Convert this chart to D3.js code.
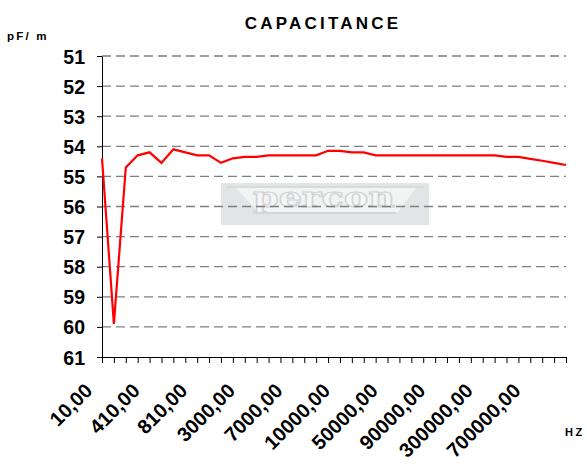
<!DOCTYPE html>
<html>
<head>
<meta charset="utf-8">
<script src="https://cdn.jsdelivr.net/npm/d3@7"></script>
<style>
  html, body { margin: 0; padding: 0; background: #fff; }
  svg { display: block; }
  text { font-family: "Liberation Sans", Arial, sans-serif; font-weight: bold; fill: #000; }
</style>
</head>
<body>
<svg id="chart" width="587" height="465"></svg>
<script>
// ---- data ----
const frequencies = [10, 110, 210, 310, 410, 510, 610, 710, 810, 910,
  1000, 2000, 3000, 4000, 5000, 6000, 7000, 8000, 9000, 9500,
  10000, 20000, 30000, 40000, 50000, 60000, 70000, 80000, 90000, 100000,
  200000, 250000, 300000, 400000, 500000, 600000, 700000, 800000, 900000, 1000000];
const capacitance = [54.4, 59.9, 54.7, 54.3, 54.2, 54.55, 54.1, 54.2, 54.3, 54.3,
  54.55, 54.4, 54.35, 54.35, 54.3, 54.3, 54.3, 54.3, 54.3, 54.15,
  54.15, 54.2, 54.2, 54.3, 54.3, 54.3, 54.3, 54.3, 54.3, 54.3,
  54.3, 54.3, 54.3, 54.3, 54.35, 54.35, 54.42, 54.48, 54.55, 54.62];
const yTickValues = [51, 52, 53, 54, 55, 56, 57, 58, 59, 60, 61];
const labelEvery = 4;
const titleText = "CAPACITANCE";
const yUnitText = "pF/ m";
const xUnitText = "HZ";

const catLabels = frequencies.map(f => f + ",00");

const svg = d3.select("#chart");
const pLeft = 102, pRight = 566, pTop = 56, pBottom = 357;

const x = d3.scalePoint().domain(catLabels).range([pLeft, pRight]);
const y = d3.scaleLinear().domain([51, 61]).range([pTop, pBottom]);

// watermark
const wm = svg.append("g");
wm.append("rect").attr("x", 221).attr("y", 183).attr("width", 208).attr("height", 42).attr("fill", "#e2e5e5");
wm.append("polygon").attr("points", "236,188 416,188 398,212 258,212").attr("fill", "#f2f3f3");
wm.append("rect").attr("x", 226).attr("y", 186).attr("width", 198).attr("height", 2).attr("fill", "#d7dbdb");
wm.append("text").attr("x", 253).attr("y", 207).attr("textLength", 142).attr("lengthAdjust", "spacingAndGlyphs")
  .style("font-family", "'DejaVu Serif', serif").style("font-size", "28px").style("font-weight", "bold")
  .style("fill", "#f6f6f6").attr("stroke", "#cfd3d3").attr("stroke-width", 1.2)
  .text("percon");
wm.append("rect").attr("x", 256).attr("y", 212).attr("width", 140).attr("height", 2).attr("fill", "#d2d6d6");

// gridlines
svg.append("g").selectAll("line").data(yTickValues.filter(v => v < 61)).join("line")
  .attr("x1", pLeft).attr("x2", pRight)
  .attr("y1", d => y(d)).attr("y2", d => y(d))
  .attr("stroke", "#7f7f7f").attr("stroke-width", 1.3).attr("stroke-dasharray", "9,5");

// y axis
const yAxis = svg.append("g").attr("transform", `translate(${pLeft},0)`)
  .call(d3.axisLeft(y).tickValues(yTickValues).tickSize(5).tickSizeOuter(0).tickFormat(d => d));
yAxis.select(".domain").attr("stroke", "#000").attr("stroke-width", 1);
yAxis.selectAll(".tick line").attr("stroke", "#000");
yAxis.selectAll(".tick text").attr("x", -17).attr("dy", "0.36em")
  .style("font-size", "19.5px").attr("fill", "#000");

// x axis
const xAxis = svg.append("g").attr("transform", `translate(0,${pBottom})`)
  .call(d3.axisBottom(x).tickSize(6).tickSizeOuter(0)
    .tickFormat((d, i) => i % labelEvery === 0 ? d : ""));
xAxis.select(".domain").attr("stroke", "#000").attr("stroke-width", 1);
xAxis.selectAll(".tick line").attr("stroke", "#000");
xAxis.selectAll(".tick text")
  .attr("text-anchor", "end")
  .attr("dy", null).attr("y", null)
  .attr("transform", "translate(-9,35) rotate(-45)")
  .style("font-size", "20px").attr("fill", "#000");

// line
const line = d3.line().x((d, i) => x(catLabels[i])).y(d => y(d));
svg.append("path").datum(capacitance).attr("d", line)
  .attr("fill", "none").attr("stroke", "#ff0000").attr("stroke-width", 2.2).attr("stroke-linejoin", "miter");

// texts
svg.append("text").attr("x", 323).attr("y", 29).attr("text-anchor", "middle")
  .style("font-size", "17px").style("letter-spacing", "3.2px").text(titleText);
svg.append("text").attr("x", 7).attr("y", 40)
  .style("font-size", "11.5px").style("letter-spacing", "2.2px").text(yUnitText);
svg.append("text").attr("x", 565).attr("y", 436)
  .style("font-size", "11px").style("letter-spacing", "2.5px").text(xUnitText);
</script>
</body>
</html>
